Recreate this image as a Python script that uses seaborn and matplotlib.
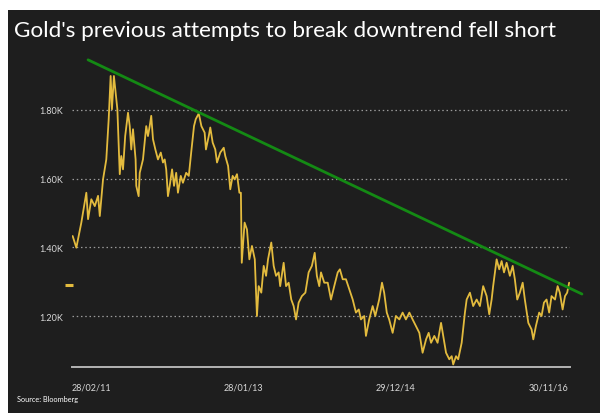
import matplotlib
matplotlib.use("Agg")
import matplotlib.pyplot as plt
import matplotlib.dates as mdates
from matplotlib.patches import Rectangle
import matplotlib.transforms as mtransforms
import seaborn as sns
import pandas as pd

# ---------------- data ----------------
dates = [
    "2011-03-03", "2011-03-20", "2011-04-12", "2011-05-05", "2011-05-13", "2011-05-28",
    "2011-06-13", "2011-06-28", "2011-07-06", "2011-07-21", "2011-08-05", "2011-08-16",
    "2011-08-25", "2011-08-31", "2011-09-09", "2011-09-25", "2011-10-06", "2011-10-13",
    "2011-10-21", "2011-10-31", "2011-11-13", "2011-11-21", "2011-11-28", "2011-12-06",
    "2011-12-18", "2011-12-21", "2012-01-01", "2012-01-06", "2012-01-21", "2012-02-05",
    "2012-02-13", "2012-02-21", "2012-02-28", "2012-03-07", "2012-03-18", "2012-03-30",
    "2012-04-12", "2012-04-22", "2012-04-30", "2012-05-07", "2012-05-15", "2012-05-23",
    "2012-06-03", "2012-06-12", "2012-06-22", "2012-06-30", "2012-07-13", "2012-07-23",
    "2012-08-07", "2012-08-19", "2012-08-30", "2012-09-12", "2012-09-20", "2012-10-04",
    "2012-10-16", "2012-10-31", "2012-11-06", "2012-11-19", "2012-11-26", "2012-12-07",
    "2012-12-19", "2012-12-27", "2013-01-11", "2013-01-27", "2013-02-03", "2013-02-16",
    "2013-02-26", "2013-03-09", "2013-03-18", "2013-03-29", "2013-04-09", "2013-04-16",
    "2013-04-20", "2013-05-03", "2013-05-14", "2013-05-25", "2013-06-06", "2013-06-19",
    "2013-06-29", "2013-07-07", "2013-07-19", "2013-07-30", "2013-08-10", "2013-08-19",
    "2013-09-03", "2013-09-14", "2013-09-25", "2013-10-07", "2013-10-14", "2013-10-30",
    "2013-11-10", "2013-11-22", "2013-12-04", "2013-12-15", "2013-12-26", "2014-01-07",
    "2014-01-22", "2014-02-07", "2014-02-22", "2014-03-09", "2014-03-22", "2014-04-01",
    "2014-04-12", "2014-04-20", "2014-05-05", "2014-05-21", "2014-06-05", "2014-06-20",
    "2014-07-06", "2014-07-16", "2014-07-29", "2014-08-13", "2014-08-28", "2014-09-13",
    "2014-09-28", "2014-10-11", "2014-10-21", "2014-11-05", "2014-11-13", "2014-11-28",
    "2014-12-14", "2014-12-26", "2015-01-13", "2015-01-26", "2015-02-05", "2015-02-17",
    "2015-02-28", "2015-03-16", "2015-03-31", "2015-04-16", "2015-05-01", "2015-05-16",
    "2015-06-01", "2015-06-16", "2015-07-01", "2015-07-17", "2015-08-01", "2015-08-17",
    "2015-08-29", "2015-09-09", "2015-09-24", "2015-10-09", "2015-10-25", "2015-11-04",
    "2015-11-17", "2015-12-02", "2015-12-13", "2015-12-20", "2016-01-02", "2016-01-12",
    "2016-01-28", "2016-02-12", "2016-02-20", "2016-03-06", "2016-03-21", "2016-04-06",
    "2016-04-21", "2016-05-06", "2016-05-22", "2016-06-03", "2016-06-14", "2016-06-21",
    "2016-07-07", "2016-07-19", "2016-07-30", "2016-08-10", "2016-08-22", "2016-09-06",
    "2016-09-19", "2016-09-29", "2016-10-10", "2016-10-22", "2016-11-04", "2016-11-14",
    "2016-11-30", "2016-12-15", "2016-12-23", "2017-01-04", "2017-01-19", "2017-01-30",
    "2017-02-10", "2017-02-22", "2017-03-06", "2017-03-17", "2017-04-02", "2017-04-14",
    "2017-04-24", "2017-05-07", "2017-05-18", "2017-05-28", "2017-06-06",
]
gold_price = [
    1433, 1399, 1472, 1559, 1482, 1540,
    1520, 1550, 1491, 1598, 1656, 1773,
    1899, 1802, 1899, 1802, 1613, 1666,
    1627, 1724, 1792, 1753, 1685, 1744,
    1656, 1579, 1549, 1617, 1656, 1753,
    1724, 1753, 1783, 1715, 1685, 1656,
    1676, 1647, 1656, 1627, 1549, 1579,
    1627, 1579, 1617, 1559, 1608, 1588,
    1617, 1608, 1676, 1753, 1773, 1790,
    1753, 1734, 1685, 1724, 1749, 1705,
    1685, 1647, 1676, 1690, 1666, 1637,
    1569, 1608, 1598, 1613, 1559, 1559,
    1355, 1472, 1452, 1365, 1404, 1365,
    1200, 1287, 1268, 1346, 1317, 1365,
    1414, 1346, 1317, 1327, 1287, 1355,
    1287, 1297, 1248, 1229, 1190, 1239,
    1258, 1268, 1327, 1346, 1384, 1317,
    1287, 1327, 1297, 1297, 1248, 1287,
    1327, 1336, 1307, 1307, 1278, 1248,
    1210, 1219, 1190, 1200, 1142, 1190,
    1229, 1200, 1248, 1297, 1268, 1210,
    1190, 1151, 1200, 1190, 1210, 1190,
    1210, 1190, 1171, 1151, 1093, 1132,
    1151, 1122, 1142, 1122, 1180, 1142,
    1093, 1074, 1083, 1059, 1083, 1074,
    1122, 1210, 1248, 1268, 1229, 1248,
    1229, 1287, 1258, 1205, 1248, 1287,
    1365, 1336, 1360, 1327, 1355, 1317,
    1346, 1307, 1248, 1268, 1297, 1248,
    1180, 1161, 1132, 1171, 1210, 1200,
    1239, 1248, 1210, 1258, 1248, 1287,
    1268, 1219, 1258, 1268, 1297,
]
trend_dates = ["2011-05-13", "2017-08-04"]
trend_values = [1946, 1264]
tick_dates = ["2011-02-28", "2013-01-28", "2014-12-29", "2016-11-30"]
tick_labels = ["28/02/11", "28/01/13", "29/12/14", "30/11/16"]
y_ticks = [1200, 1400, 1600, 1800]
y_tick_labels = ["1.20K", "1.40K", "1.60K", "1.80K"]
title = "Gold's previous attempts to break downtrend fell short"
source = "Source: Bloomberg"

# ---------------- style ----------------
BG = "#1e1e1e"
GOLD = "#e3bb3e"
GREEN = "#148a14"
GRID = "#9a9a9a"
TXT = "#d8d8d8"

sns.set_style("dark")
plt.rcParams["font.family"] = ["Lato", "DejaVu Sans"]

df = pd.DataFrame({"date": pd.to_datetime(dates), "price": gold_price})
trend = pd.DataFrame({"date": pd.to_datetime(trend_dates), "value": trend_values})

fig = plt.figure(figsize=(6.0, 4.14), dpi=100)
fig.patch.set_facecolor("white")
fig.patches.append(Rectangle((8 / 600, 0), 1 - 8 / 600, (414 - 11) / 414,
                             transform=fig.transFigure, facecolor=BG,
                             edgecolor="none", zorder=-10))

ax = fig.add_axes([72 / 600, 46 / 414, 498 / 600, 313 / 414])
ax.set_facecolor("none")
ax.set_zorder(5)

sns.lineplot(data=df, x="date", y="price", ax=ax, color=GOLD, linewidth=1.3,
             zorder=3)
sns.lineplot(data=trend, x="date", y="value", ax=ax, color=GREEN, linewidth=2.0,
             zorder=4, clip_on=False)

ax.set_xlim(pd.Timestamp("2011-02-28"), pd.Timestamp("2017-06-10"))
ax.set_ylim(1051.5, 1963)

# grid
ax.grid(False)
for v in y_ticks:
    ax.axhline(v, color=GRID, linewidth=0.9, linestyle=(0, (1.2, 2.2)), zorder=1)

# spines
for s in ["top", "right", "left"]:
    ax.spines[s].set_visible(False)
ax.spines["bottom"].set_color("#b4b4b4")
ax.spines["bottom"].set_linewidth(1.4)

ax.set_xticks(pd.to_datetime(tick_dates))
ax.set_xticklabels(tick_labels)
for lab in ax.get_xticklabels():
    lab.set_horizontalalignment("left")
ax.tick_params(axis="x", direction="out", length=3, width=1, color="#b4b4b4",
               labelsize=6.5, labelcolor=TXT, pad=8)

ax.set_yticks(y_ticks)
ax.set_yticklabels(y_tick_labels)
ax.tick_params(axis="y", length=0, labelsize=6.5, labelcolor=TXT, pad=6.5)

ax.set_xlabel("")
ax.set_ylabel("")
legend = ax.get_legend()
if legend is not None:
    legend.remove()

# last-value marker on the y axis
blend = mtransforms.blended_transform_factory(ax.transAxes, ax.transData)
ax.plot([-0.006], [gold_price[-1] - 7], transform=blend, marker="_",
        markersize=6, markeredgewidth=2.2, color=GOLD, clip_on=False, zorder=5)

fig.text(14 / 600, 1 - 31 / 414, title, color="white", fontsize=16.2,
         ha="left", va="center")
fig.text(17 / 600, 1 - 400 / 414, source, color="white", fontsize=5.3,
         ha="left", va="center")

fig.savefig("out.png", dpi=100, facecolor=fig.get_facecolor())
